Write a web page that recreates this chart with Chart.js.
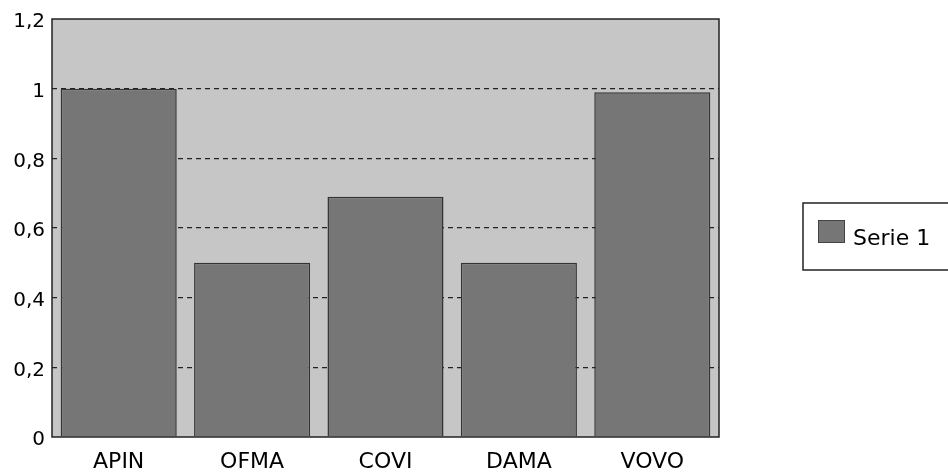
<!DOCTYPE html>
<html>
<head>
<meta charset="utf-8">
<script src="https://cdn.jsdelivr.net/npm/chart.js@4/dist/chart.umd.min.js"></script>
<style>
    html, body { margin: 0; padding: 0; background: #fff; }
    #wrap { width: 948px; height: 472px; }
</style>
</head>
<body>
<div id="wrap"><canvas id="serieChart" width="948" height="472"></canvas></div>
<script>
// Chart data
var categories = ["APIN", "OFMA", "COVI", "DAMA", "VOVO"];
var serie1 = [1, 0.5, 0.69, 0.5, 0.99];
var yTickLabels = ["0", "0,2", "0,4", "0,6", "0,8", "1", "1,2"];
var serieName = "Serie 1";

var plotBg = "#c6c6c6";
var barColor = "#767676";

// grey plot area, frame and legend box
var framePlugin = {
    id: "frame",
    beforeDraw: function (chart) {
        var a = chart.chartArea;
        var ctx = chart.ctx;
        ctx.save();
        ctx.fillStyle = plotBg;
        ctx.fillRect(a.left, a.top, a.right - a.left, a.bottom - a.top);
        ctx.restore();
    },
    afterDraw: function (chart) {
        var a = chart.chartArea;
        var ctx = chart.ctx;
        ctx.save();
        ctx.strokeStyle = "#222";
        ctx.lineWidth = 1.5;
        ctx.strokeRect(a.left, a.top, a.right - a.left, a.bottom - a.top);

        // legend
        ctx.strokeRect(803, 203, 200, 67);
        ctx.fillStyle = barColor;
        ctx.fillRect(818, 220, 27, 23);
        ctx.strokeStyle = "#444";
        ctx.lineWidth = 1;
        ctx.strokeRect(818.5, 220.5, 26, 22);
        ctx.fillStyle = "#000";
        ctx.font = "22px 'DejaVu Sans'";
        ctx.textBaseline = "alphabetic";
        ctx.fillText(chart.data.datasets[0].label, 853, 245);
        ctx.restore();
    }
};

new Chart("serieChart", {
    type: "bar",
    data: {
        labels: categories,
        datasets: [{
            label: serieName,
            data: serie1,
            backgroundColor: barColor,
            borderColor: "#333",
            borderWidth: 1.5,
            barPercentage: 0.87,
            categoryPercentage: 1.0
        }]
    },
    options: {
        responsive: false,
        animation: false,
        layout: { padding: { top: 16, right: 229, left: 0, bottom: 0 } },
        plugins: {
            legend: { display: false },
            tooltip: { enabled: false }
        },
        scales: {
            x: {
                grid: { display: false, drawTicks: false },
                border: { display: false },
                ticks: {
                    color: "#000",
                    font: { family: "DejaVu Sans", size: 22 },
                    padding: 12,
                    maxRotation: 0
                },
                afterFit: function (scale) { scale.height = 35; }
            },
            y: {
                min: 0,
                max: 1.2,
                grid: {
                    drawTicks: false,
                    color: function (c) {
                        if (c.index === 0 || c.index === yTickLabels.length - 1) return "rgba(0,0,0,0)";
                        return "#222";
                    },
                    lineWidth: 1.3
                },
                border: { display: false, dash: [5, 4] },
                ticks: {
                    stepSize: 0.2,
                    color: "#000",
                    font: { family: "DejaVu Sans", size: 20 },
                    padding: 7,
                    labelOffset: 3,
                    callback: function (value, index) { return yTickLabels[index]; }
                },
                afterFit: function (scale) { scale.width = 52; }
            }
        }
    },
    plugins: [framePlugin]
});
</script>
</body>
</html>
